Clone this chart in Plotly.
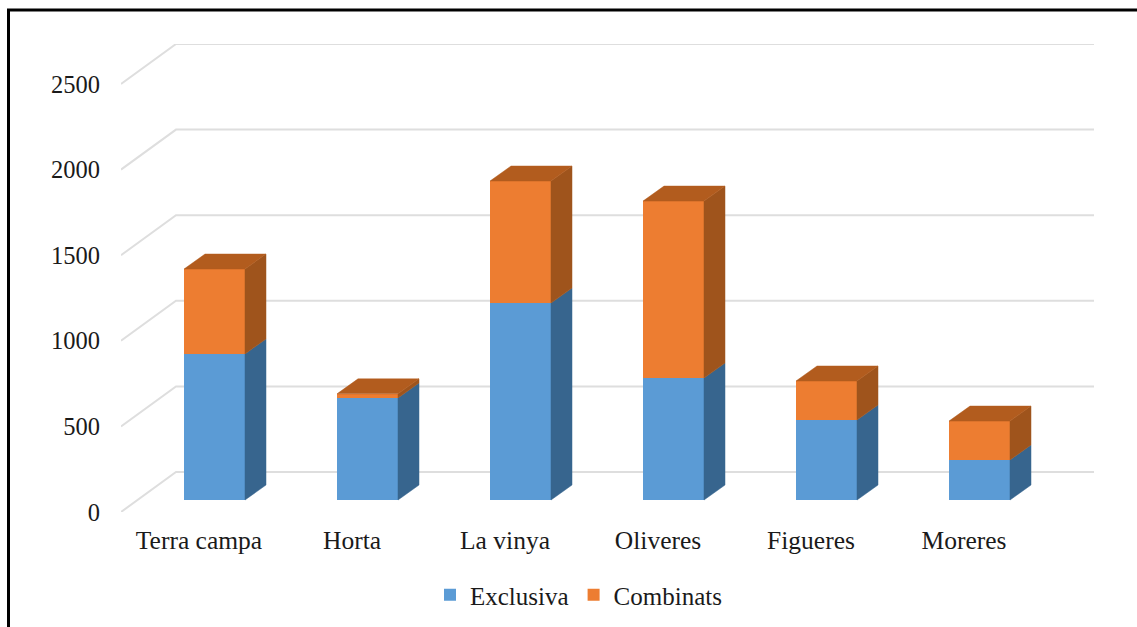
import plotly.graph_objects as go

categories = ["Terra campa", "Horta", "La vinya", "Oliveres", "Figueres", "Moreres"]
exclusiva = [853, 596, 1150, 712, 467, 234]
combinats = [496, 24, 713, 1034, 228, 227]
y_ticks = [0, 500, 1000, 1500, 2000, 2500]

W, H = 1137, 627
L, R, T, B = 121, 1094, 44, 512
PX_PER_CAT = 153.0
PX_PER_UNIT = 85.6 / 500
FONT = "Liberation Serif"
TXT = "#1a1a1a"

def dx(px):
    return px / PX_PER_CAT

def dy(px):
    return px / PX_PER_UNIT

WALL_X, WALL_Y = dx(55), dy(40)
BAR_W = dx(61)
BAR_SHIFT = dx(17)
BASE = dy(12)
DEPTH_X, DEPTH_Y = dx(21), dy(15)

centers = [i + 0.5 for i in range(len(categories))]
label_x = [c + dx(1.5) for c in centers]
bar_x = [c + BAR_SHIFT for c in centers]
excl_base = [BASE for _ in exclusiva]
comb_base = [BASE + e for e in exclusiva]
tops = [b + c for b, c in zip(comb_base, combinats)]

def side_faces(xs, lows, highs):
    px, py = [], []
    for x, lo, hi in zip(xs, lows, highs):
        r = x + BAR_W / 2
        px += [r, r + DEPTH_X, r + DEPTH_X, r, r, None]
        py += [lo, lo + DEPTH_Y, hi + DEPTH_Y, hi, lo, None]
    return px, py

def top_faces(xs, levels):
    px, py = [], []
    for x, v in zip(xs, levels):
        l, r = x - BAR_W / 2, x + BAR_W / 2
        px += [l, r, r + DEPTH_X, l + DEPTH_X, l, None]
        py += [v, v, v + DEPTH_Y, v + DEPTH_Y, v, None]
    return px, py

def poly(px, py, color):
    return go.Scatter(x=px, y=py, mode="lines", fill="toself", fillcolor=color,
                      line=dict(width=0.5, color=color), hoverinfo="skip",
                      showlegend=False, cliponaxis=False)

fig = go.Figure()
fig.add_bar(name="Exclusiva", x=bar_x, y=exclusiva, base=excl_base, width=BAR_W,
            marker=dict(color="#5B9BD5", line=dict(width=0)))
fig.add_bar(name="Combinats", x=bar_x, y=combinats, base=comb_base, width=BAR_W,
            marker=dict(color="#ED7D31", line=dict(width=0)))
fig.add_trace(poly(*side_faces(bar_x, excl_base, comb_base), "#37658E"))
fig.add_trace(poly(*side_faces(bar_x, comb_base, tops), "#9F541C"))
fig.add_trace(poly(*top_faces(bar_x, tops), "#B25C1E"))

x_end = (R - L) / PX_PER_CAT
shapes = []
for t in y_ticks:
    path = f"M 0 {t} L {WALL_X} {t + WALL_Y} L {x_end} {t + WALL_Y}"
    shapes.append(dict(type="path", path=path, xref="x", yref="y", layer="below",
                       line=dict(color="#DEDEDE", width=2)))
for x0, y0, x1, y1 in [(8.5, 9, 8.5, H), (7, 10, W, 10)]:
    shapes.append(dict(type="line", xref="paper", yref="paper",
                       x0=x0 / W, x1=x1 / W, y0=1 - y0 / H, y1=1 - y1 / H,
                       line=dict(color="#000000", width=3)))

fig.update_layout(
    width=W, height=H, autosize=False,
    margin=dict(l=0, r=0, t=0, b=0, pad=0, autoexpand=False),
    paper_bgcolor="#FFFFFF", plot_bgcolor="rgba(0,0,0,0)",
    barmode="overlay", bargap=0, shapes=shapes,
    font=dict(family=FONT, size=25, color=TXT),
    showlegend=True,
    legend=dict(orientation="h", x=430 / W, xanchor="left",
                y=1 - 595 / H, yanchor="middle",
                font=dict(family=FONT, size=25, color=TXT),
                bgcolor="rgba(0,0,0,0)", traceorder="normal"),
    xaxis=dict(domain=[L / W, R / W], range=[0, x_end], tickmode="array",
               tickvals=label_x, ticktext=categories, tickfont=dict(size=25.5),
               showgrid=False, zeroline=False, showline=False, automargin=False,
               ticks="outside", ticklen=5, tickcolor="rgba(0,0,0,0)", tickangle=0),
    yaxis=dict(domain=[1 - B / H, 1 - T / H], range=[0, (B - T) / PX_PER_UNIT],
               tickmode="array", tickvals=y_ticks, ticktext=[str(t) for t in y_ticks],
               tickfont=dict(size=24.5), automargin=False,
               showgrid=False, zeroline=False, showline=False,
               ticks="outside", ticklen=15, tickcolor="rgba(0,0,0,0)"),
)

fig.write_html("out.html", config=dict(displayModeBar=False),
               post_script="document.body.style.margin='0';document.documentElement.style.overflow='hidden';")
